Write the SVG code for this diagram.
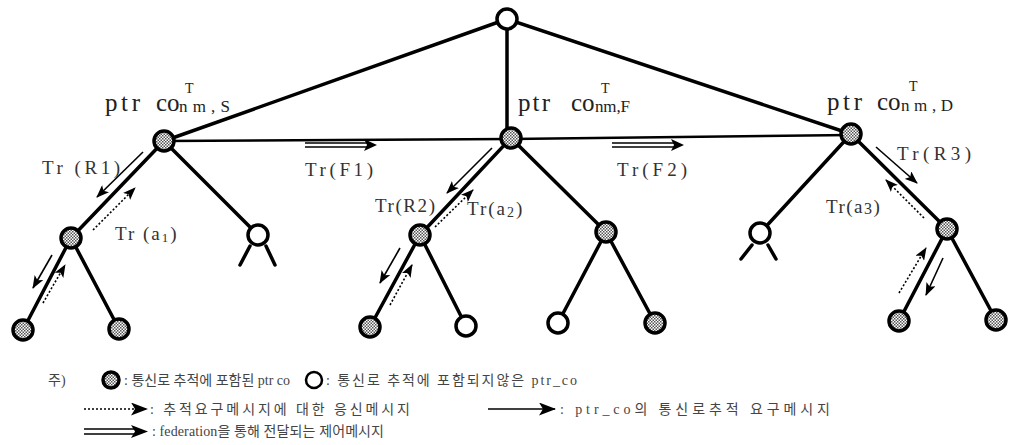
<svg xmlns="http://www.w3.org/2000/svg" width="1009" height="445" viewBox="0 0 1009 445">
<style>
.edge{stroke:#000;stroke-width:3.5;fill:none;stroke-linecap:round}
.thin{stroke:#000;stroke-width:2.5;fill:none}
.msg{stroke:#000;stroke-width:1.6;fill:none}
.dot{stroke:#000;stroke-width:1.6;fill:none;stroke-dasharray:2 2}
.nd{stroke:#000;stroke-width:3.5}
.on{fill:url(#chk)}
.off{fill:#fff}
.head{fill:#000}
.lbl{font-family:"Liberation Serif",serif;font-size:19px;fill:#333}
.ptr{font-family:"Liberation Serif",serif;fill:#222}
.lg{font-family:"Liberation Serif","Noto Sans CJK KR",serif;font-size:14px;fill:#444}
</style>
<defs>
<pattern id="chk" width="3" height="3" patternUnits="userSpaceOnUse">
<rect width="3" height="3" fill="#fff"/>
<rect width="1.5" height="1.5" fill="#555"/>
<rect x="1.5" y="1.5" width="1.5" height="1.5" fill="#555"/>
</pattern>
<marker id="ah" markerWidth="13" markerHeight="10" refX="12" refY="5" orient="auto" markerUnits="userSpaceOnUse">
<path d="M0,0 L13,5 L0,10 L3,5z" fill="#000"/>
</marker>
<marker id="ahL" markerWidth="17" markerHeight="13" refX="16" refY="6.5" orient="auto" markerUnits="userSpaceOnUse">
<path d="M0,0 L17,6.5 L0,13 L4,6.5z" fill="#000"/>
</marker>
</defs>
<rect width="1009" height="445" fill="#fff"/>

<g id="connectors">
<line class="edge" x1="507" y1="19" x2="164" y2="141"/>
<line class="edge" x1="507" y1="19" x2="507" y2="130"/>
<line class="edge" x1="507" y1="19" x2="851" y2="134"/>
<line class="thin" x1="164" y1="141" x2="511" y2="139"/>
<line class="thin" x1="511" y1="139" x2="851" y2="135"/>
<line class="edge" x1="164" y1="141" x2="71" y2="238"/>
<line class="edge" x1="164" y1="141" x2="258" y2="235"/>
<line class="edge" x1="71" y1="238" x2="23" y2="330"/>
<line class="edge" x1="71" y1="238" x2="119" y2="329"/>
<line class="edge" x1="250" y1="246" x2="240" y2="265"/>
<line class="edge" x1="266" y1="246" x2="275" y2="265"/>
<line class="edge" x1="511" y1="138" x2="420" y2="235"/>
<line class="edge" x1="511" y1="138" x2="606" y2="232"/>
<line class="edge" x1="420" y1="235" x2="370" y2="327"/>
<line class="edge" x1="420" y1="235" x2="466" y2="326"/>
<line class="edge" x1="606" y1="232" x2="558" y2="323"/>
<line class="edge" x1="606" y1="232" x2="655" y2="323"/>
<line class="edge" x1="851" y1="134" x2="760" y2="233"/>
<line class="edge" x1="851" y1="134" x2="947" y2="229"/>
<line class="edge" x1="752" y1="245" x2="741" y2="259"/>
<line class="edge" x1="768" y1="245" x2="776" y2="259"/>
<line class="edge" x1="947" y1="229" x2="899" y2="321"/>
<line class="edge" x1="947" y1="229" x2="996" y2="320"/>

<line class="msg" x1="143" y1="152" x2="97" y2="197" marker-end="url(#ah)"/>
<line class="dot" x1="93" y1="230" x2="135" y2="188" marker-end="url(#ah)"/>
<line class="msg" x1="52" y1="255" x2="33" y2="288" marker-end="url(#ah)"/>
<line class="dot" x1="43" y1="303" x2="65" y2="265" marker-end="url(#ah)"/>
<line class="msg" x1="492" y1="148" x2="447" y2="193" marker-end="url(#ah)"/>
<line class="dot" x1="435" y1="227" x2="473" y2="190" marker-end="url(#ah)"/>
<line class="msg" x1="400" y1="248" x2="380" y2="283" marker-end="url(#ah)"/>
<line class="dot" x1="390" y1="305" x2="412" y2="265" marker-end="url(#ah)"/>
<line class="msg" x1="876" y1="147" x2="917" y2="183" marker-end="url(#ah)"/>
<line class="dot" x1="924" y1="218" x2="886" y2="180" marker-end="url(#ah)"/>
<line class="dot" x1="899" y1="293" x2="926" y2="248" marker-end="url(#ah)"/>
<line class="msg" x1="943" y1="258" x2="926" y2="295" marker-end="url(#ah)"/>

<path class="msg" d="M305,143 H368 M305,147 H368"/>
<path class="head" d="M364,139 L377,145 L364,151 L367,145z"/>
<path class="msg" d="M612,143 H675 M612,147 H675"/>
<path class="head" d="M671,139 L684,145 L671,151 L674,145z"/>
</g>

<g id="root"><circle class="nd off" cx="507" cy="19" r="10"/></g>
<g id="nodeS"><circle class="nd on" cx="164" cy="141" r="10"/></g>
<g id="nodeF"><circle class="nd on" cx="511" cy="138" r="10"/></g>
<g id="nodeD"><circle class="nd on" cx="851" cy="134" r="10"/></g>
<g id="s1"><circle class="nd on" cx="71" cy="238" r="10"/></g>
<g id="s2"><circle class="nd off" cx="258" cy="235" r="10"/></g>
<g id="s11"><circle class="nd on" cx="23" cy="330" r="10"/></g>
<g id="s12"><circle class="nd on" cx="119" cy="329" r="10"/></g>
<g id="f1"><circle class="nd on" cx="420" cy="235" r="10"/></g>
<g id="f2"><circle class="nd on" cx="606" cy="232" r="10"/></g>
<g id="f11"><circle class="nd on" cx="370" cy="327" r="10"/></g>
<g id="f12"><circle class="nd off" cx="466" cy="326" r="10"/></g>
<g id="f21"><circle class="nd off" cx="558" cy="323" r="10"/></g>
<g id="f22"><circle class="nd on" cx="655" cy="323" r="10"/></g>
<g id="d1"><circle class="nd off" cx="760" cy="233" r="10"/></g>
<g id="d2"><circle class="nd on" cx="947" cy="229" r="10"/></g>
<g id="d21"><circle class="nd on" cx="899" cy="321" r="10"/></g>
<g id="d22"><circle class="nd on" cx="996" cy="320" r="10"/></g>

<g id="labels">
<text class="ptr" x="105" y="111" font-size="25" textLength="35" lengthAdjust="spacing">ptr</text>
<text class="ptr" x="156" y="111" font-size="25">co</text>
<text class="ptr" x="185" y="93" font-size="14">T</text>
<text class="ptr" x="179" y="112" font-size="17" textLength="51" lengthAdjust="spacing">nm,S</text>

<text class="ptr" x="518" y="111" font-size="25" textLength="32" lengthAdjust="spacing">ptr</text>
<text class="ptr" x="571" y="111" font-size="25">co</text>
<text class="ptr" x="601" y="93" font-size="14">T</text>
<text class="ptr" x="595" y="112" font-size="17" textLength="35" lengthAdjust="spacing">nm,F</text>

<text class="ptr" x="827" y="110" font-size="25" textLength="35" lengthAdjust="spacing">ptr</text>
<text class="ptr" x="877" y="110" font-size="25">co</text>
<text class="ptr" x="909" y="91" font-size="14">T</text>
<text class="ptr" x="901" y="111" font-size="17" textLength="52" lengthAdjust="spacing">nm,D</text>

<text class="lbl" x="42" y="174" textLength="78" lengthAdjust="spacing">Tr (R1)</text>
<text class="lbl" x="115" y="240" letter-spacing="2">Tr (a<tspan font-size="13" dy="2">1</tspan><tspan dy="-2">)</tspan></text>
<text class="lbl" x="305" y="176" textLength="68" lengthAdjust="spacing">Tr(F1)</text>
<text class="lbl" x="617" y="176" textLength="70" lengthAdjust="spacing">Tr(F2)</text>
<text class="lbl" x="375" y="212" textLength="60" lengthAdjust="spacing">Tr(R2)</text>
<text class="lbl" x="467" y="215" letter-spacing="2">Tr(a<tspan font-size="14" dy="2">2</tspan><tspan dy="-2">)</tspan></text>
<text class="lbl" x="897" y="160" textLength="74" lengthAdjust="spacing">Tr(R3)</text>
<text class="lbl" x="826" y="213" letter-spacing="1.5">Tr(a<tspan font-size="16" dy="1">3</tspan><tspan dy="-1">)</tspan></text>
</g>

<g id="legend">
<text class="lg" x="48" y="385">주)</text>
<circle class="nd on" cx="111" cy="380" r="8" stroke-width="3"/>
<text class="lg" x="124" y="385">: 통신로 추적에 포함된 ptr co</text>
<circle class="off" cx="314" cy="380" r="8" stroke="#000" stroke-width="2.5"/>
<text class="lg" x="326" y="385" textLength="251" lengthAdjust="spacing">: 통신로 추적에 포함되지않은 ptr_co</text>

<line class="dot" x1="84" y1="409" x2="147" y2="409" marker-end="url(#ahL)"/>
<text class="lg" x="150" y="414" textLength="260" lengthAdjust="spacing">: 추적요구메시지에 대한 응신메시지</text>
<line class="msg" x1="488" y1="409" x2="555" y2="409" marker-end="url(#ahL)"/>
<text class="lg" x="560" y="414" font-size="15" textLength="270" lengthAdjust="spacing">: ptr_co의 통신로추적 요구메시지</text>

<path class="msg" d="M84,429 H138 M84,434 H138"/>
<path class="head" d="M131,425 L148,431.5 L131,438 L135,431.5z"/>
<text class="lg" x="152" y="436" textLength="232" lengthAdjust="spacing">: federation을 통해 전달되는 제어메시지</text>
</g>
</svg>
